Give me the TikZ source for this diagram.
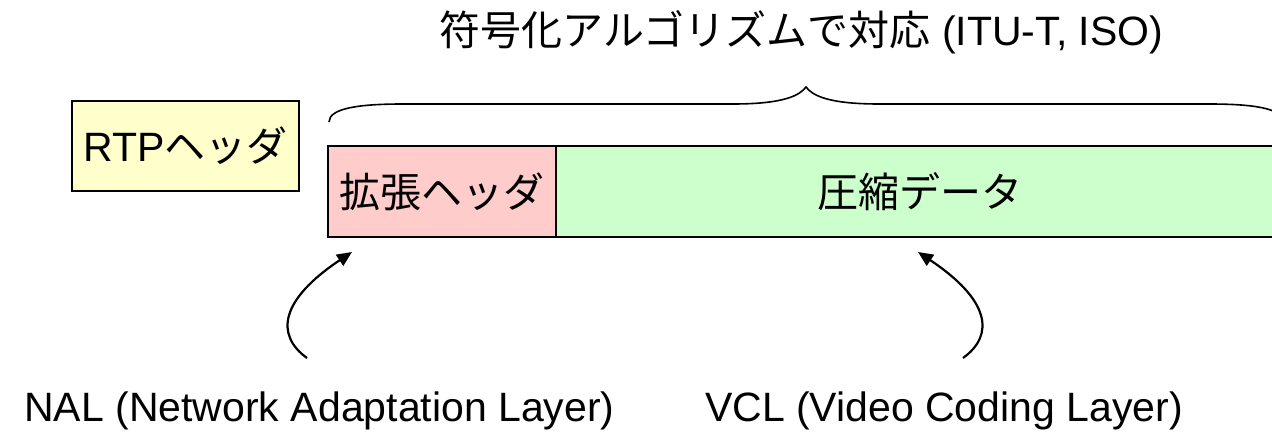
\documentclass[tikz,border=0pt]{standalone}
\usepackage{fontspec}
\setmainfont{Liberation Sans}
\newfontfamily\jpfont{Noto Sans CJK JP}
\usetikzlibrary{arrows.meta}
\definecolor{rtpyellow}{HTML}{FFFFCC}
\definecolor{extpink}{HTML}{FFCCCC}
\definecolor{datagreen}{HTML}{CCFFCC}
\tikzset{field/.style={draw, line width=1.5pt, inner sep=0pt, minimum height=91pt},
         pointer/.style={line width=2.2pt, -{Triangle[length=15pt,width=13pt]}}}

\begin{document}
\begin{tikzpicture}[x=1pt,y=-1pt,font=\fontsize{41}{48}\selectfont]
            \useasboundingbox (0,0) rectangle (1272,434);
            \node[field, fill=rtpyellow, minimum width=227pt, minimum height=90pt] (rtp) at (185.5,146) {RTP{\jpfont ヘッダ}};
            \node[field, fill=extpink, minimum width=228pt] (ext) at (442,191.5) {\jpfont 拡張ヘッダ};
            \node[field, fill=datagreen, minimum width=727pt] (data) at (919.5,191.5) {\jpfont 圧縮データ};
            % brace over both fields
            \draw[line width=1.6pt] (329,122) .. controls (329,108) and (360,104) .. (403,104) -- (733,104)
                .. controls (785,104) and (800,95) .. (806,87)
                .. controls (812,95) and (827,104) .. (879,104) -- (1209,104)
                .. controls (1252,104) and (1283,108) .. (1283,122);
            \node[anchor=base] (title) at (801.5,45) {{\jpfont 符号化アルゴリズムで対応} (ITU-T, ISO)};
            \node[anchor=base] (nal) at (319.5,421) {NAL (Network Adaptation Layer)};
            \node[anchor=base] (vcl) at (944,421) {VCL (Video Coding Layer)};
            \coordinate (nalfoot) at (307,358);
            \coordinate (naltip) at (352,252);
            \coordinate (vclfoot) at (963,358);
            \coordinate (vcltip) at (918,252);
            \draw[pointer] (nalfoot) .. controls (275,335) and (280,300) .. (naltip);
            \draw[pointer] (vclfoot) .. controls (995,335) and (990,300) .. (vcltip);
        \end{tikzpicture}
\end{document}
